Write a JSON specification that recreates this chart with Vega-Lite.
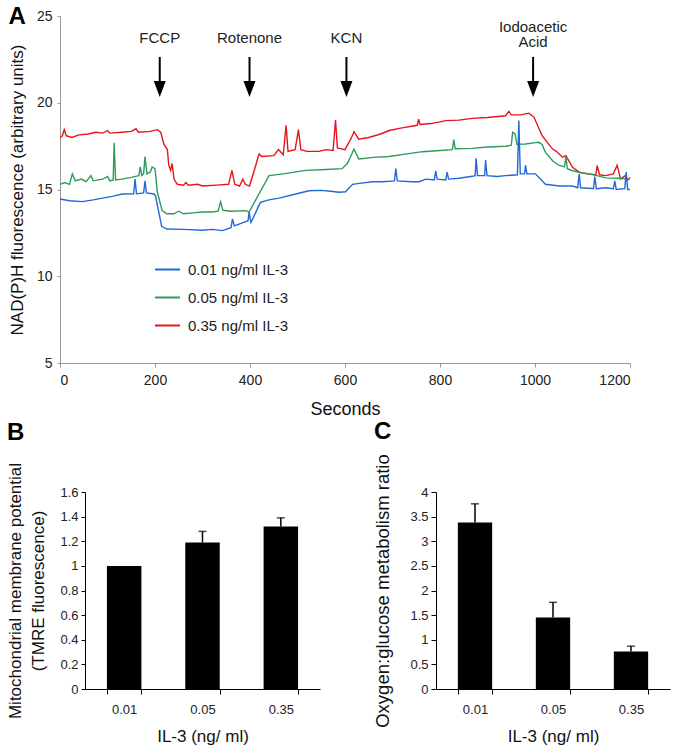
{
"$schema": "https://vega.github.io/schema/vega-lite/v6.json",
"background": "white",
"padding": {"left": 6, "top": 5, "right": 5, "bottom": 5},
"config": {"view": {"stroke": null}, "font": "Liberation Sans", "axis": {"grid": false, "titleFontWeight": "normal", "labelColor": "#222", "titleColor": "#111"}},
"datasets": {
"trace": [
{"t":0,"v":18.0,"s":"0.35 ng/ml IL-3"},{"t":5,"v":18.1,"s":"0.35 ng/ml IL-3"},{"t":9,"v":18.45,"s":"0.35 ng/ml IL-3"},{"t":13,"v":18.1,"s":"0.35 ng/ml IL-3"},{"t":25,"v":18.0,"s":"0.35 ng/ml IL-3"},{"t":40,"v":18.15,"s":"0.35 ng/ml IL-3"},{"t":60,"v":18.2,"s":"0.35 ng/ml IL-3"},{"t":75,"v":18.3,"s":"0.35 ng/ml IL-3"},{"t":90,"v":18.25,"s":"0.35 ng/ml IL-3"},{"t":100,"v":18.4,"s":"0.35 ng/ml IL-3"},{"t":105,"v":18.25,"s":"0.35 ng/ml IL-3"},{"t":130,"v":18.3,"s":"0.35 ng/ml IL-3"},{"t":150,"v":18.35,"s":"0.35 ng/ml IL-3"},{"t":160,"v":18.5,"s":"0.35 ng/ml IL-3"},{"t":165,"v":18.3,"s":"0.35 ng/ml IL-3"},{"t":190,"v":18.35,"s":"0.35 ng/ml IL-3"},{"t":205,"v":18.45,"s":"0.35 ng/ml IL-3"},{"t":212,"v":18.3,"s":"0.35 ng/ml IL-3"},{"t":219,"v":17.6,"s":"0.35 ng/ml IL-3"},{"t":226,"v":17.3,"s":"0.35 ng/ml IL-3"},{"t":229,"v":16.4,"s":"0.35 ng/ml IL-3"},{"t":233,"v":16.1,"s":"0.35 ng/ml IL-3"},{"t":236,"v":16.5,"s":"0.35 ng/ml IL-3"},{"t":240,"v":15.6,"s":"0.35 ng/ml IL-3"},{"t":247,"v":15.3,"s":"0.35 ng/ml IL-3"},{"t":260,"v":15.25,"s":"0.35 ng/ml IL-3"},{"t":265,"v":15.4,"s":"0.35 ng/ml IL-3"},{"t":270,"v":15.25,"s":"0.35 ng/ml IL-3"},{"t":290,"v":15.3,"s":"0.35 ng/ml IL-3"},{"t":300,"v":15.2,"s":"0.35 ng/ml IL-3"},{"t":330,"v":15.25,"s":"0.35 ng/ml IL-3"},{"t":355,"v":15.3,"s":"0.35 ng/ml IL-3"},{"t":362,"v":16.1,"s":"0.35 ng/ml IL-3"},{"t":368,"v":15.3,"s":"0.35 ng/ml IL-3"},{"t":378,"v":15.2,"s":"0.35 ng/ml IL-3"},{"t":385,"v":15.6,"s":"0.35 ng/ml IL-3"},{"t":390,"v":15.3,"s":"0.35 ng/ml IL-3"},{"t":399,"v":15.2,"s":"0.35 ng/ml IL-3"},{"t":410,"v":16.2,"s":"0.35 ng/ml IL-3"},{"t":419,"v":17.05,"s":"0.35 ng/ml IL-3"},{"t":425,"v":16.9,"s":"0.35 ng/ml IL-3"},{"t":450,"v":16.95,"s":"0.35 ng/ml IL-3"},{"t":460,"v":17.3,"s":"0.35 ng/ml IL-3"},{"t":470,"v":17.0,"s":"0.35 ng/ml IL-3"},{"t":476,"v":18.7,"s":"0.35 ng/ml IL-3"},{"t":480,"v":17.2,"s":"0.35 ng/ml IL-3"},{"t":495,"v":17.3,"s":"0.35 ng/ml IL-3"},{"t":502,"v":18.45,"s":"0.35 ng/ml IL-3"},{"t":507,"v":17.3,"s":"0.35 ng/ml IL-3"},{"t":520,"v":17.2,"s":"0.35 ng/ml IL-3"},{"t":545,"v":17.2,"s":"0.35 ng/ml IL-3"},{"t":560,"v":17.3,"s":"0.35 ng/ml IL-3"},{"t":575,"v":17.25,"s":"0.35 ng/ml IL-3"},{"t":580,"v":19.0,"s":"0.35 ng/ml IL-3"},{"t":584,"v":17.4,"s":"0.35 ng/ml IL-3"},{"t":600,"v":17.3,"s":"0.35 ng/ml IL-3"},{"t":612,"v":17.9,"s":"0.35 ng/ml IL-3"},{"t":619,"v":18.33,"s":"0.35 ng/ml IL-3"},{"t":629,"v":17.9,"s":"0.35 ng/ml IL-3"},{"t":650,"v":18.0,"s":"0.35 ng/ml IL-3"},{"t":675,"v":18.2,"s":"0.35 ng/ml IL-3"},{"t":693,"v":18.4,"s":"0.35 ng/ml IL-3"},{"t":720,"v":18.55,"s":"0.35 ng/ml IL-3"},{"t":752,"v":18.7,"s":"0.35 ng/ml IL-3"},{"t":755,"v":19.05,"s":"0.35 ng/ml IL-3"},{"t":758,"v":18.75,"s":"0.35 ng/ml IL-3"},{"t":780,"v":18.8,"s":"0.35 ng/ml IL-3"},{"t":800,"v":18.9,"s":"0.35 ng/ml IL-3"},{"t":812,"v":18.97,"s":"0.35 ng/ml IL-3"},{"t":840,"v":19.0,"s":"0.35 ng/ml IL-3"},{"t":868,"v":19.1,"s":"0.35 ng/ml IL-3"},{"t":900,"v":19.15,"s":"0.35 ng/ml IL-3"},{"t":938,"v":19.25,"s":"0.35 ng/ml IL-3"},{"t":945,"v":19.5,"s":"0.35 ng/ml IL-3"},{"t":950,"v":19.3,"s":"0.35 ng/ml IL-3"},{"t":970,"v":19.3,"s":"0.35 ng/ml IL-3"},{"t":987,"v":19.4,"s":"0.35 ng/ml IL-3"},{"t":998,"v":19.16,"s":"0.35 ng/ml IL-3"},{"t":1015,"v":18.1,"s":"0.35 ng/ml IL-3"},{"t":1037,"v":17.33,"s":"0.35 ng/ml IL-3"},{"t":1045,"v":17.2,"s":"0.35 ng/ml IL-3"},{"t":1058,"v":16.86,"s":"0.35 ng/ml IL-3"},{"t":1065,"v":16.95,"s":"0.35 ng/ml IL-3"},{"t":1079,"v":16.28,"s":"0.35 ng/ml IL-3"},{"t":1093,"v":16.0,"s":"0.35 ng/ml IL-3"},{"t":1110,"v":15.9,"s":"0.35 ng/ml IL-3"},{"t":1128,"v":15.85,"s":"0.35 ng/ml IL-3"},{"t":1131,"v":16.37,"s":"0.35 ng/ml IL-3"},{"t":1136,"v":15.85,"s":"0.35 ng/ml IL-3"},{"t":1149,"v":15.8,"s":"0.35 ng/ml IL-3"},{"t":1165,"v":15.9,"s":"0.35 ng/ml IL-3"},{"t":1173,"v":16.4,"s":"0.35 ng/ml IL-3"},{"t":1180,"v":15.6,"s":"0.35 ng/ml IL-3"},{"t":1190,"v":15.8,"s":"0.35 ng/ml IL-3"},{"t":1195,"v":15.55,"s":"0.35 ng/ml IL-3"},{"t":1200,"v":15.7,"s":"0.35 ng/ml IL-3"},
{"t":0,"v":15.3,"s":"0.05 ng/ml IL-3"},{"t":10,"v":15.4,"s":"0.05 ng/ml IL-3"},{"t":20,"v":15.3,"s":"0.05 ng/ml IL-3"},{"t":26,"v":15.9,"s":"0.05 ng/ml IL-3"},{"t":32,"v":15.5,"s":"0.05 ng/ml IL-3"},{"t":45,"v":15.6,"s":"0.05 ng/ml IL-3"},{"t":55,"v":15.45,"s":"0.05 ng/ml IL-3"},{"t":65,"v":15.8,"s":"0.05 ng/ml IL-3"},{"t":70,"v":15.5,"s":"0.05 ng/ml IL-3"},{"t":90,"v":15.6,"s":"0.05 ng/ml IL-3"},{"t":100,"v":15.75,"s":"0.05 ng/ml IL-3"},{"t":105,"v":15.5,"s":"0.05 ng/ml IL-3"},{"t":112,"v":15.55,"s":"0.05 ng/ml IL-3"},{"t":114,"v":17.7,"s":"0.05 ng/ml IL-3"},{"t":117,"v":15.55,"s":"0.05 ng/ml IL-3"},{"t":130,"v":15.6,"s":"0.05 ng/ml IL-3"},{"t":150,"v":15.7,"s":"0.05 ng/ml IL-3"},{"t":166,"v":15.8,"s":"0.05 ng/ml IL-3"},{"t":169,"v":16.3,"s":"0.05 ng/ml IL-3"},{"t":172,"v":15.8,"s":"0.05 ng/ml IL-3"},{"t":176,"v":15.9,"s":"0.05 ng/ml IL-3"},{"t":179,"v":16.9,"s":"0.05 ng/ml IL-3"},{"t":183,"v":15.9,"s":"0.05 ng/ml IL-3"},{"t":190,"v":16.0,"s":"0.05 ng/ml IL-3"},{"t":194,"v":16.3,"s":"0.05 ng/ml IL-3"},{"t":200,"v":16.2,"s":"0.05 ng/ml IL-3"},{"t":205,"v":14.84,"s":"0.05 ng/ml IL-3"},{"t":215,"v":13.78,"s":"0.05 ng/ml IL-3"},{"t":225,"v":13.6,"s":"0.05 ng/ml IL-3"},{"t":240,"v":13.6,"s":"0.05 ng/ml IL-3"},{"t":250,"v":13.75,"s":"0.05 ng/ml IL-3"},{"t":260,"v":13.6,"s":"0.05 ng/ml IL-3"},{"t":280,"v":13.65,"s":"0.05 ng/ml IL-3"},{"t":300,"v":13.7,"s":"0.05 ng/ml IL-3"},{"t":320,"v":13.7,"s":"0.05 ng/ml IL-3"},{"t":333,"v":13.75,"s":"0.05 ng/ml IL-3"},{"t":338,"v":14.3,"s":"0.05 ng/ml IL-3"},{"t":343,"v":13.8,"s":"0.05 ng/ml IL-3"},{"t":360,"v":13.75,"s":"0.05 ng/ml IL-3"},{"t":391,"v":13.78,"s":"0.05 ng/ml IL-3"},{"t":398,"v":13.7,"s":"0.05 ng/ml IL-3"},{"t":420,"v":14.8,"s":"0.05 ng/ml IL-3"},{"t":440,"v":15.8,"s":"0.05 ng/ml IL-3"},{"t":470,"v":15.9,"s":"0.05 ng/ml IL-3"},{"t":517,"v":16.1,"s":"0.05 ng/ml IL-3"},{"t":560,"v":16.15,"s":"0.05 ng/ml IL-3"},{"t":594,"v":16.2,"s":"0.05 ng/ml IL-3"},{"t":605,"v":16.5,"s":"0.05 ng/ml IL-3"},{"t":619,"v":17.33,"s":"0.05 ng/ml IL-3"},{"t":629,"v":16.76,"s":"0.05 ng/ml IL-3"},{"t":660,"v":16.85,"s":"0.05 ng/ml IL-3"},{"t":693,"v":16.9,"s":"0.05 ng/ml IL-3"},{"t":730,"v":17.05,"s":"0.05 ng/ml IL-3"},{"t":763,"v":17.18,"s":"0.05 ng/ml IL-3"},{"t":800,"v":17.25,"s":"0.05 ng/ml IL-3"},{"t":826,"v":17.3,"s":"0.05 ng/ml IL-3"},{"t":829,"v":17.87,"s":"0.05 ng/ml IL-3"},{"t":832,"v":17.35,"s":"0.05 ng/ml IL-3"},{"t":868,"v":17.37,"s":"0.05 ng/ml IL-3"},{"t":900,"v":17.45,"s":"0.05 ng/ml IL-3"},{"t":938,"v":17.49,"s":"0.05 ng/ml IL-3"},{"t":950,"v":17.55,"s":"0.05 ng/ml IL-3"},{"t":953,"v":18.3,"s":"0.05 ng/ml IL-3"},{"t":958,"v":18.2,"s":"0.05 ng/ml IL-3"},{"t":962,"v":17.6,"s":"0.05 ng/ml IL-3"},{"t":980,"v":17.62,"s":"0.05 ng/ml IL-3"},{"t":1000,"v":17.7,"s":"0.05 ng/ml IL-3"},{"t":1008,"v":17.72,"s":"0.05 ng/ml IL-3"},{"t":1015,"v":17.6,"s":"0.05 ng/ml IL-3"},{"t":1022,"v":17.14,"s":"0.05 ng/ml IL-3"},{"t":1037,"v":16.66,"s":"0.05 ng/ml IL-3"},{"t":1050,"v":16.4,"s":"0.05 ng/ml IL-3"},{"t":1062,"v":16.3,"s":"0.05 ng/ml IL-3"},{"t":1065,"v":16.9,"s":"0.05 ng/ml IL-3"},{"t":1068,"v":16.2,"s":"0.05 ng/ml IL-3"},{"t":1079,"v":16.08,"s":"0.05 ng/ml IL-3"},{"t":1100,"v":15.95,"s":"0.05 ng/ml IL-3"},{"t":1114,"v":15.9,"s":"0.05 ng/ml IL-3"},{"t":1130,"v":15.8,"s":"0.05 ng/ml IL-3"},{"t":1149,"v":15.67,"s":"0.05 ng/ml IL-3"},{"t":1175,"v":15.65,"s":"0.05 ng/ml IL-3"},{"t":1200,"v":15.6,"s":"0.05 ng/ml IL-3"},
{"t":0,"v":14.45,"s":"0.01 ng/ml IL-3"},{"t":20,"v":14.35,"s":"0.01 ng/ml IL-3"},{"t":47,"v":14.3,"s":"0.01 ng/ml IL-3"},{"t":70,"v":14.4,"s":"0.01 ng/ml IL-3"},{"t":90,"v":14.5,"s":"0.01 ng/ml IL-3"},{"t":110,"v":14.6,"s":"0.01 ng/ml IL-3"},{"t":131,"v":14.74,"s":"0.01 ng/ml IL-3"},{"t":155,"v":14.75,"s":"0.01 ng/ml IL-3"},{"t":158,"v":15.6,"s":"0.01 ng/ml IL-3"},{"t":161,"v":14.75,"s":"0.01 ng/ml IL-3"},{"t":176,"v":14.8,"s":"0.01 ng/ml IL-3"},{"t":179,"v":15.5,"s":"0.01 ng/ml IL-3"},{"t":182,"v":14.8,"s":"0.01 ng/ml IL-3"},{"t":198,"v":14.74,"s":"0.01 ng/ml IL-3"},{"t":201,"v":14.64,"s":"0.01 ng/ml IL-3"},{"t":214,"v":12.88,"s":"0.01 ng/ml IL-3"},{"t":225,"v":12.72,"s":"0.01 ng/ml IL-3"},{"t":260,"v":12.7,"s":"0.01 ng/ml IL-3"},{"t":300,"v":12.65,"s":"0.01 ng/ml IL-3"},{"t":320,"v":12.7,"s":"0.01 ng/ml IL-3"},{"t":342,"v":12.63,"s":"0.01 ng/ml IL-3"},{"t":360,"v":12.8,"s":"0.01 ng/ml IL-3"},{"t":363,"v":13.3,"s":"0.01 ng/ml IL-3"},{"t":367,"v":12.9,"s":"0.01 ng/ml IL-3"},{"t":391,"v":13.15,"s":"0.01 ng/ml IL-3"},{"t":396,"v":13.2,"s":"0.01 ng/ml IL-3"},{"t":398,"v":13.7,"s":"0.01 ng/ml IL-3"},{"t":402,"v":13.1,"s":"0.01 ng/ml IL-3"},{"t":422,"v":14.26,"s":"0.01 ng/ml IL-3"},{"t":440,"v":14.4,"s":"0.01 ng/ml IL-3"},{"t":461,"v":14.5,"s":"0.01 ng/ml IL-3"},{"t":490,"v":14.7,"s":"0.01 ng/ml IL-3"},{"t":524,"v":14.93,"s":"0.01 ng/ml IL-3"},{"t":550,"v":14.95,"s":"0.01 ng/ml IL-3"},{"t":570,"v":14.9,"s":"0.01 ng/ml IL-3"},{"t":587,"v":14.84,"s":"0.01 ng/ml IL-3"},{"t":601,"v":14.87,"s":"0.01 ng/ml IL-3"},{"t":616,"v":15.3,"s":"0.01 ng/ml IL-3"},{"t":630,"v":15.35,"s":"0.01 ng/ml IL-3"},{"t":658,"v":15.45,"s":"0.01 ng/ml IL-3"},{"t":680,"v":15.45,"s":"0.01 ng/ml IL-3"},{"t":704,"v":15.5,"s":"0.01 ng/ml IL-3"},{"t":707,"v":16.2,"s":"0.01 ng/ml IL-3"},{"t":710,"v":15.5,"s":"0.01 ng/ml IL-3"},{"t":740,"v":15.45,"s":"0.01 ng/ml IL-3"},{"t":756,"v":15.45,"s":"0.01 ng/ml IL-3"},{"t":770,"v":15.6,"s":"0.01 ng/ml IL-3"},{"t":788,"v":15.55,"s":"0.01 ng/ml IL-3"},{"t":791,"v":16.08,"s":"0.01 ng/ml IL-3"},{"t":794,"v":15.6,"s":"0.01 ng/ml IL-3"},{"t":812,"v":15.55,"s":"0.01 ng/ml IL-3"},{"t":815,"v":16.0,"s":"0.01 ng/ml IL-3"},{"t":818,"v":15.6,"s":"0.01 ng/ml IL-3"},{"t":840,"v":15.65,"s":"0.01 ng/ml IL-3"},{"t":868,"v":15.76,"s":"0.01 ng/ml IL-3"},{"t":874,"v":15.8,"s":"0.01 ng/ml IL-3"},{"t":876,"v":16.8,"s":"0.01 ng/ml IL-3"},{"t":879,"v":15.8,"s":"0.01 ng/ml IL-3"},{"t":894,"v":15.8,"s":"0.01 ng/ml IL-3"},{"t":896,"v":16.7,"s":"0.01 ng/ml IL-3"},{"t":899,"v":15.8,"s":"0.01 ng/ml IL-3"},{"t":920,"v":15.75,"s":"0.01 ng/ml IL-3"},{"t":938,"v":15.8,"s":"0.01 ng/ml IL-3"},{"t":963,"v":15.85,"s":"0.01 ng/ml IL-3"},{"t":966,"v":18.97,"s":"0.01 ng/ml IL-3"},{"t":969,"v":15.9,"s":"0.01 ng/ml IL-3"},{"t":978,"v":15.9,"s":"0.01 ng/ml IL-3"},{"t":980,"v":16.4,"s":"0.01 ng/ml IL-3"},{"t":983,"v":15.9,"s":"0.01 ng/ml IL-3"},{"t":1001,"v":15.9,"s":"0.01 ng/ml IL-3"},{"t":1022,"v":15.3,"s":"0.01 ng/ml IL-3"},{"t":1051,"v":15.2,"s":"0.01 ng/ml IL-3"},{"t":1079,"v":15.2,"s":"0.01 ng/ml IL-3"},{"t":1090,"v":15.1,"s":"0.01 ng/ml IL-3"},{"t":1093,"v":15.9,"s":"0.01 ng/ml IL-3"},{"t":1096,"v":15.1,"s":"0.01 ng/ml IL-3"},{"t":1114,"v":15.07,"s":"0.01 ng/ml IL-3"},{"t":1123,"v":15.05,"s":"0.01 ng/ml IL-3"},{"t":1126,"v":15.75,"s":"0.01 ng/ml IL-3"},{"t":1129,"v":15.05,"s":"0.01 ng/ml IL-3"},{"t":1149,"v":15.1,"s":"0.01 ng/ml IL-3"},{"t":1165,"v":15.05,"s":"0.01 ng/ml IL-3"},{"t":1168,"v":15.5,"s":"0.01 ng/ml IL-3"},{"t":1171,"v":15.0,"s":"0.01 ng/ml IL-3"},{"t":1189,"v":15.05,"s":"0.01 ng/ml IL-3"},{"t":1192,"v":16.0,"s":"0.01 ng/ml IL-3"},{"t":1195,"v":15.0,"s":"0.01 ng/ml IL-3"},{"t":1200,"v":15.0,"s":"0.01 ng/ml IL-3"}
],
"arrows": [{"t":210,"label":"FCCP"},{"t":399,"label":"Rotenone"},{"t":603,"label":"KCN"},{"t":996,"label":"Iodoacetic\nAcid"}],
"tmre": [{"il3":"0.01","mean":1.0,"upper":null},{"il3":"0.05","mean":1.19,"upper":1.28},{"il3":"0.35","mean":1.32,"upper":1.39}],
"ratio": [{"il3":"0.01","mean":3.38,"upper":3.76},{"il3":"0.05","mean":1.45,"upper":1.76},{"il3":"0.35","mean":0.76,"upper":0.87}]
},
"columns": 1,
"align": "none",
"spacing": 1,
"concat": [
{
"width": 545, "height": 347,
"title": {"text": "A", "anchor": "start", "frame": "bounds", "fontSize": 24, "fontWeight": "bold", "offset": -20, "color": "black"},
"layer": [
{"data": {"name": "trace"}, "mark": {"type": "line", "strokeWidth": 1.4},
 "encoding": {
  "x": {"field": "t", "type": "quantitative", "scale": {"domain": [0, 1200], "range": [-25, 545], "nice": false},
        "axis": {"title": "Seconds", "titleX": 260, "values": [0,200,400,600,800,1000,1200], "format": "d", "domainColor": "#999", "tickColor": "#999", "tickSize": 4, "labelFontSize": 14, "labelPadding": 6, "titleFontSize": 18, "titlePadding": 13}},
  "y": {"field": "v", "type": "quantitative", "scale": {"domain": [5, 25], "nice": false},
        "axis": {"title": "NAD(P)H fluorescence (arbitrary units)", "offset": 25, "values": [5,10,15,20,25], "domainColor": "#999", "tickColor": "#999", "tickSize": 3, "labelFontSize": 14, "labelPadding": 5, "titleFontSize": 17, "titlePadding": 10}},
  "color": {"field": "s", "type": "nominal", "scale": {"domain": ["0.01 ng/ml IL-3", "0.05 ng/ml IL-3", "0.35 ng/ml IL-3"], "range": ["#1f6ad6", "#2e9a5c", "#e8141c"]},
            "legend": {"title": null, "orient": "none", "legendX": 69, "legendY": 240, "symbolType": "stroke", "symbolSize": 625, "symbolStrokeWidth": 2, "labelFontSize": 15, "labelColor": "#222", "labelOffset": 7, "rowPadding": 6}},
  "order": {"field": "s", "sort": "ascending"}
 }},
{"data": {"name": "arrows"}, "mark": {"type": "rule", "color": "black", "strokeWidth": 2},
 "encoding": {"x": {"field": "t", "type": "quantitative"}, "y": {"datum": 22.64}, "y2": {"datum": 21.0}}},
{"data": {"name": "arrows"}, "mark": {"type": "point", "shape": "M-0.75,-1L0.75,-1L0,1Z", "filled": true, "color": "black", "opacity": 1, "size": 256, "strokeWidth": 0},
 "encoding": {"x": {"field": "t", "type": "quantitative"}, "y": {"datum": 20.79}}},
{"data": {"name": "arrows"}, "transform": [{"filter": "datum.t < 900"}], "mark": {"type": "text", "fontSize": 15, "color": "#222", "baseline": "middle", "align": "center"},
 "encoding": {"x": {"field": "t", "type": "quantitative"}, "y": {"datum": 23.73}, "text": {"field": "label"}}},
{"data": {"name": "arrows"}, "transform": [{"filter": "datum.t > 900"}], "mark": {"type": "text", "fontSize": 15, "color": "#222", "baseline": "middle", "align": "center", "lineBreak": "\n", "lineHeight": 15},
 "encoding": {"x": {"field": "t", "type": "quantitative"}, "y": {"datum": 24.37}, "text": {"field": "label"}}}
]
},
{
"columns": 2,
"align": "each",
"spacing": 53,
"concat": [
{
"data": {"name": "tmre"},
"width": 235, "height": 197,
"title": {"text": "B", "anchor": "start", "frame": "bounds", "fontSize": 24, "fontWeight": "bold", "offset": 17, "color": "black"},
"encoding": {"x": {"field": "il3", "type": "nominal", "sort": null, "scale": {"paddingInner": 0.56, "paddingOuter": 0.28},
  "axis": {"title": "IL-3 (ng/ ml)", "labelAngle": 0, "tickBand": "extent", "domainColor": "black", "tickColor": "black", "tickSize": 5, "labelFontSize": 13, "labelPadding": 9, "titleFontSize": 17, "titlePadding": 12}}},
"layer": [
{"mark": {"type": "bar", "color": "black"},
 "encoding": {"y": {"field": "mean", "type": "quantitative", "scale": {"domain": [0, 1.6]}, "title": ["Mitochondrial membrane potential", "(TMRE fluorescence)"],
   "axis": {"values": [0,0.2,0.4,0.6,0.8,1,1.2,1.4,1.6], "format": ".1~f", "domainColor": "black", "tickColor": "black", "tickSize": 4, "labelFontSize": 13, "labelPadding": 3, "titleFontSize": 17, "titleLineHeight": 23, "titlePadding": 12}}}},
{"transform": [{"filter": "datum.upper != null"}], "mark": {"type": "rule", "color": "black", "strokeWidth": 1.5},
 "encoding": {"y": {"field": "mean", "type": "quantitative", "title": ["Mitochondrial membrane potential", "(TMRE fluorescence)"],
   "axis": {"values": [0,0.2,0.4,0.6,0.8,1,1.2,1.4,1.6], "format": ".1~f", "domainColor": "black", "tickColor": "black", "tickSize": 4, "labelFontSize": 13, "labelPadding": 3, "titleFontSize": 17, "titleLineHeight": 23, "titlePadding": 12}}, "y2": {"field": "upper"}}},
{"transform": [{"filter": "datum.upper != null"}], "mark": {"type": "tick", "color": "black", "thickness": 1.5, "size": 8},
 "encoding": {"y": {"field": "upper", "type": "quantitative", "title": ["Mitochondrial membrane potential", "(TMRE fluorescence)"],
   "axis": {"values": [0,0.2,0.4,0.6,0.8,1,1.2,1.4,1.6], "format": ".1~f", "domainColor": "black", "tickColor": "black", "tickSize": 4, "labelFontSize": 13, "labelPadding": 3, "titleFontSize": 17, "titleLineHeight": 23, "titlePadding": 12}}}}
]
},
{
"data": {"name": "ratio"},
"width": 234, "height": 197,
"title": {"text": "C", "anchor": "start", "frame": "bounds", "fontSize": 24, "fontWeight": "bold", "offset": 10, "color": "black"},
"encoding": {"x": {"field": "il3", "type": "nominal", "sort": null, "scale": {"paddingInner": 0.56, "paddingOuter": 0.28},
  "axis": {"title": "IL-3 (ng/ ml)", "labelAngle": 0, "tickBand": "extent", "domainColor": "black", "tickColor": "black", "tickSize": 5, "labelFontSize": 13, "labelPadding": 9, "titleFontSize": 17, "titlePadding": 12}}},
"layer": [
{"mark": {"type": "bar", "color": "black"},
 "encoding": {"y": {"field": "mean", "type": "quantitative", "scale": {"domain": [0, 4]}, "title": "Oxygen:glucose metabolism ratio",
   "axis": {"values": [0,0.5,1,1.5,2,2.5,3,3.5,4], "format": ".1~f", "domainColor": "black", "tickColor": "black", "tickSize": 5, "labelFontSize": 13, "labelPadding": 3, "titleFontSize": 18.5, "titlePadding": 17}}}},
{"mark": {"type": "rule", "color": "black", "strokeWidth": 1.5},
 "encoding": {"y": {"field": "mean", "type": "quantitative", "title": "Oxygen:glucose metabolism ratio",
   "axis": {"values": [0,0.5,1,1.5,2,2.5,3,3.5,4], "format": ".1~f", "domainColor": "black", "tickColor": "black", "tickSize": 5, "labelFontSize": 13, "labelPadding": 3, "titleFontSize": 18.5, "titlePadding": 17}}, "y2": {"field": "upper"}}},
{"mark": {"type": "tick", "color": "black", "thickness": 1.5, "size": 8},
 "encoding": {"y": {"field": "upper", "type": "quantitative", "title": "Oxygen:glucose metabolism ratio",
   "axis": {"values": [0,0.5,1,1.5,2,2.5,3,3.5,4], "format": ".1~f", "domainColor": "black", "tickColor": "black", "tickSize": 5, "labelFontSize": 13, "labelPadding": 3, "titleFontSize": 18.5, "titlePadding": 17}}}}
]
}
]
}
]
}
